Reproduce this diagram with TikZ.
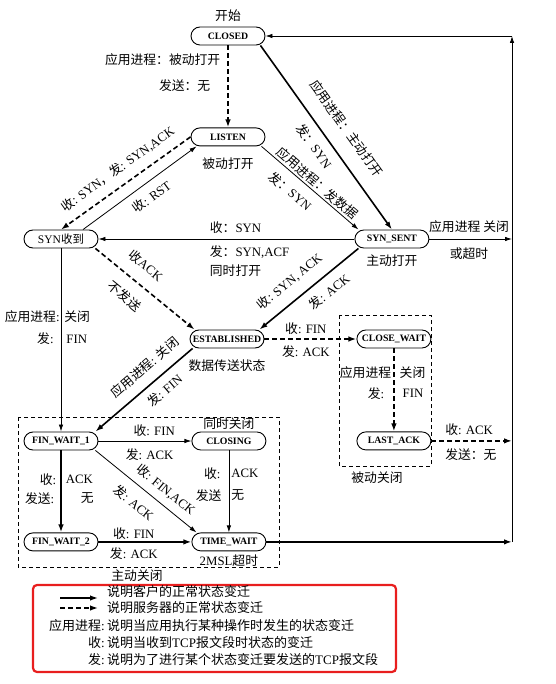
\documentclass[tikz,border=0pt]{standalone}
\usepackage{fontspec}
\setmainfont{Liberation Serif}
\newfontfamily\cjk{Noto Sans CJK SC}
\newcommand{\zh}[1]{{\cjk #1}}
\usetikzlibrary{arrows.meta,positioning}
\definecolor{legendRed}{RGB}{232,30,30}

\begin{document}
\begin{tikzpicture}[
  x=1pt, y=-1pt,
  state/.style={
    draw,
    line width=0.9pt,
    rounded corners=9pt,
    minimum height=18pt,
    minimum width=74pt,
    inner sep=1pt,
    font=\bfseries\fontsize{9.8}{10}\selectfont
  },
  lbl/.style={inner sep=1pt, font=\fontsize{12.8}{15}\selectfont},
  lgd/.style={inner sep=1pt, font=\fontsize{13}{15}\selectfont},
  client/.style={-{Latex[length=8pt,width=5.5pt]}, line width=1.6pt},
  server/.style={client, dash pattern=on 5pt off 3pt},
  misc/.style={-{Latex[length=7pt,width=4.5pt]}, line width=0.8pt},
  groupbox/.style={line width=0.7pt, dash pattern=on 4pt off 3pt}
]
  \useasboundingbox (0,0) rectangle (555,684);

  % states
  \node[state] (closed) at (228,36) {CLOSED};
  \node[lbl, above=4pt of closed] (start) {\zh{开始}};
  \node[state, below=82pt of closed] (listen) {LISTEN};
  \node[lbl, below=10pt of listen] (passiveopen) {\zh{被动打开}};
  \node[state, font=\fontsize{11.5}{12}\selectfont] (synrcvd) at (61,239)
    {SYN\zh{收到}};
  \node[state, right=256pt of synrcvd] (synsent) {SYN\_SENT};
  \node[lbl, below=5pt of synsent] (activeopen) {\zh{主动打开}};
  \node[state] (established) at (227,339) {ESTABLISHED};
  \node[lbl, below=10pt of established] (datatransfer) {\zh{数据传送状态}};
  \node[state, right=92pt of established] (closewait) {CLOSE\_WAIT};
  \node[state, below=83pt of closewait] (lastack) {LAST\_ACK};
  \node[state] (finwait1) at (61,441) {FIN\_WAIT\_1};
  \node[state, right=93pt of finwait1] (closing) {CLOSING};
  \node[lbl, above=1pt of closing] (simclose) {\zh{同时关闭}};
  \node[state, below=82pt of finwait1] (finwait2) {FIN\_WAIT\_2};
  \node[state, below=82pt of closing] (timewait) {TIME\_WAIT};
  \node[lbl, below=2pt of timewait] (msl) {2MSL\zh{超时}};

  % close groups
  \draw[groupbox] (339,315) rectangle (431,466);
  \node[lbl] (passiveclose) at (377,478) {\zh{被动关闭}};
  \draw[groupbox] (18,417) rectangle (279,567);
  \node[lbl] (activeclose) at (137,576) {\zh{主动关闭}};

  % back to CLOSED
  \coordinate (rail) at (512,0);
  \draw[misc] (timewait.east -| rail) -- (closed.east -| rail);
  \draw[misc] (closed.east -| rail) -- (closed.east);

  % opening
  \draw[server] (closed) --
    node[lbl, pos=.17, left=6pt] {\zh{应用进程：被动打开}}
    node[lbl, pos=.49, left=16pt] {\zh{发送：无}} (listen);
  \draw[client] ([xshift=-5pt]closed.south east) --
    node[lbl, sloped, pos=.52, above=14pt] {\zh{应用进程：主动打开}}
    node[lbl, sloped, pos=.5, below=7pt] {\zh{发：}SYN} (synsent.north);
  \draw[misc] ([xshift=-4pt]listen.south east) --
    node[lbl, sloped, pos=.52, above=1pt] {\zh{应用进程：发数据}}
    node[lbl, sloped, pos=.4, below=8pt] {\zh{发：}SYN} ([xshift=4pt]synsent.north west);
  \draw[server] (listen.west) --
    node[lbl, sloped, pos=.49, above=8pt] {\zh{收}: SYN\zh{，发}: SYN,ACK} (synrcvd.north);
  \draw[misc] ([xshift=22pt]synrcvd.north) --
    node[lbl, sloped, pos=.53, below=7pt] {\zh{收}: RST} ([xshift=6pt]listen.south west);
  \draw[misc] (synsent.west) --
    node[lbl, pos=.57, anchor=south west, yshift=4pt] {\zh{收：}SYN}
    node[lbl, pos=.57, anchor=north west, yshift=-5pt, align=left]
      {\zh{发：}SYN,ACF\\[4pt]\zh{同时打开}} (synrcvd.east);
  \draw[server] ([xshift=-3pt]synrcvd.south east) --
    node[lbl, sloped, pos=.39, above=11pt] {\zh{收}ACK}
    node[lbl, sloped, pos=.41, below=11pt] {\zh{不发送}} ([xshift=5pt]established.north west);
  \draw[client] ([xshift=4pt]synsent.south west) --
    node[lbl, sloped, pos=.58, above=10pt] {\zh{收}: SYN, ACK}
    node[lbl, sloped, pos=.39, below=7pt] {\zh{发}: ACK} ([xshift=-5pt]established.north east);
  \draw[misc] (synsent) --
    node[lbl, pos=.48, above=5pt] {\zh{应用进程 关闭}}
    node[lbl, pos=.48, below=7pt] {\zh{或超时}} (synsent -| rail);

  % passive close
  \draw[server] (established) --
    node[lbl, pos=.45, above=3pt] {\zh{收}: FIN}
    node[lbl, pos=.45, below=5pt] {\zh{发}: ACK} (closewait);
  \draw[server] (closewait) --
    node[lbl, pos=.29, left=1pt] {\zh{应用进程}}
    node[lbl, pos=.29, right=4pt] {\zh{关闭}}
    node[lbl, pos=.54, left=8pt] {\zh{发}:}
    node[lbl, pos=.54, right=7pt] {FIN} (lastack);
  \draw[server] (lastack) --
    node[lbl, pos=.15, anchor=south west, yshift=4pt] {\zh{收}: ACK}
    node[lbl, pos=.15, anchor=north west, yshift=-6pt] {\zh{发送：无}} (lastack -| rail);

  % active close
  \draw[misc] (synrcvd) --
    node[lbl, pos=.375, left=0pt] {\zh{应用进程}:}
    node[lbl, pos=.375, right=2pt] {\zh{关闭}}
    node[lbl, pos=.495, left=6pt] {\zh{发}:}
    node[lbl, pos=.495, right=4pt] {FIN} (finwait1);
  \draw[client] ([xshift=3pt]established.south west) --
    node[lbl, sloped, pos=.38, above=9pt] {\zh{应用进程}: \zh{关闭}}
    node[lbl, sloped, pos=.38, below=6pt] {\zh{发}: FIN} ([xshift=-3pt]finwait1.north east);
  \draw[misc] (finwait1) --
    node[lbl, pos=.6, above=3pt] {\zh{收}: FIN}
    node[lbl, pos=.55, below=6pt] {\zh{发}: ACK} (closing);
  \draw[misc] ([xshift=-3pt]finwait1.south east) --
    node[lbl, sloped, pos=.61, above=6pt] {\zh{收}: FIN,ACK}
    node[lbl, sloped, pos=.48, below=9pt] {\zh{发}: ACK} ([xshift=5pt]timewait.north west);
  \draw[client] (finwait1) --
    node[lbl, pos=.35, left=3pt] {\zh{收}:}
    node[lbl, pos=.35, right=3pt] {ACK}
    node[lbl, pos=.585, left=5pt] {\zh{发送}:}
    node[lbl, pos=.585, right=18pt] {\zh{无}} (finwait2);
  \draw[misc] (closing) --
    node[lbl, pos=.28, left=7pt] {\zh{收}:}
    node[lbl, pos=.28, right=1pt] {ACK}
    node[lbl, pos=.55, left=6pt] {\zh{发送}}
    node[lbl, pos=.55, right=1pt] {\zh{无}} (timewait);
  \draw[client] (finwait2) --
    node[lbl, pos=.38, above=1pt] {\zh{收}: FIN}
    node[lbl, pos=.38, below=4pt] {\zh{发}: ACK} (timewait);
  \draw[client] (timewait) -- (timewait -| rail);

  % legend
  \draw[legendRed, line width=2.2pt, rounded corners=4pt] (33,585) rectangle (396,672);
  \coordinate (keyA) at (60,598);
  \coordinate (keyB) at (60,608);
  \draw[client, line width=1.4pt] (keyA) -- ++(38,0);
  \draw[server, line width=1.4pt] (keyB) -- ++(38,0);
  \node[lgd, anchor=west] (legA) at (106,592) {\zh{说明客户的正常状态变迁}};
  \node[lgd, anchor=west] (legB) at (106,608) {\zh{说明服务器的正常状态变迁}};
  \node[lgd, anchor=west] (legC) at (106,626) {\zh{说明当应用执行某种操作时发生的状态变迁}};
  \node[lgd, anchor=west] (legD) at (106,643) {\zh{说明当收到}TCP\zh{报文段时状态的变迁}};
  \node[lgd, anchor=west] (legE) at (106,660) {\zh{说明为了进行某个状态变迁要发送的}TCP\zh{报文段}};
  \node[lgd, anchor=east] (keyC) at (legC.west) {\zh{应用进程}:};
  \node[lgd, anchor=east] (keyD) at (legD.west) {\zh{收}:};
  \node[lgd, anchor=east] (keyE) at (legE.west) {\zh{发}:};
\end{tikzpicture}
\end{document}
